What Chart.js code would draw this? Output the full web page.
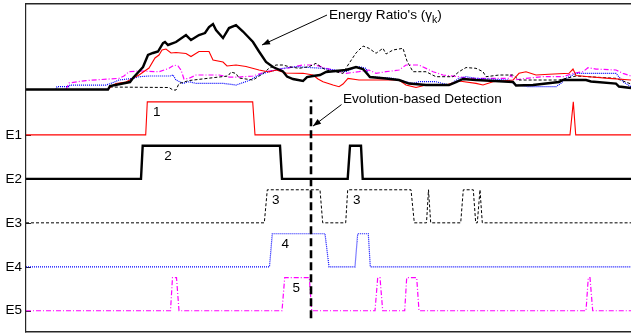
<!DOCTYPE html>
<html><head><meta charset="utf-8">
<script src="https://cdn.jsdelivr.net/npm/chart.js@4"></script>
<style>html,body{margin:0;padding:0;background:#fff;}canvas{display:block;}</style>
</head><body>
<canvas id="c" width="631" height="333"></canvas>
<script>
// ---- data ----
const timeRange = [0, 605];            // sample index
const rowLabels = ['E1', 'E2', 'E3', 'E4', 'E5'];

// energy ratios gamma_k : [sample, value]
const gammaE1 = [[0,0],[82,0],[86,.054],[90,.092],[100,.115],[113,.223],[123,.331],[129,.485],[133,.531],[136,.608],[140,.623],[145,.562],[150,.569],[160,.554],[165,.508],[173,.585],[183,.585],[187,.454],[197,.423],[201,.362],[210,.377],[220,.354],[233,.3],[243,.269],[250,.3],[260,.254],[277,.249],[287,.223],[292,.162],[297,.12],[307,.069],[313,.043],[317,.085],[322,.172],[333,.146],[373,.146],[380,.069],[390,.031],[400,.069],[420,.069],[433,.131],[450,.095],[457,.069],[467,.12],[487,.146],[493,.249],[500,.274],[510,.223],[523,.234],[543,.249],[547,.315],[550,.215],[563,.197],[583,.172],[605,.146]];
const gammaE2 = [[0,0],[82,0],[84,.054],[104,.115],[107,.177],[117,.346],[122,.531],[127,.562],[132,.585],[137,.715],[139,.731],[142,.685],[150,.731],[160,.838],[165,.762],[173,.838],[179,.869],[183,.962],[187,1.008],[190,.915],[197,.792],[203,.946],[210,.992],[217,.892],[227,.731],[233,.585],[240,.423],[247,.346],[257,.277],[261,.2],[267,.162],[277,.131],[281,.192],[287,.208],[294,.223],[300,.269],[320,.3],[330,.346],[337,.315],[344,.192],[360,.169],[373,.146],[383,.092],[400,.069],[423,.069],[430,.115],[437,.162],[450,.146],[487,.115],[490,.062],[507,.069],[533,.115],[537,.146],[560,.146],[565,.123],[590,.092],[593,.046],[605,.023]];
const gammaE3 = [[0,0],[82,0],[84,.038],[143,.031],[147,-.008],[150,-.008],[153,.092],[163,.138],[180,.169],[193,.192],[202,.208],[205,.269],[210,.246],[213,.177],[227,.146],[237,.246],[243,.326],[250,.377],[257,.377],[263,.351],[273,.326],[283,.351],[290,.403],[297,.326],[300,.3],[317,.249],[322,.377],[330,.562],[337,.669],[343,.634],[350,.557],[357,.634],[360,.546],[367,.608],[377,.634],[381,.438],[387,.274],[400,.274],[410,.197],[427,.197],[433,.274],[440,.338],[450,.326],[457,.274],[460,.197],[473,.223],[487,.223],[493,.146],[533,.146],[550,.208],[590,.172],[605,.085]];
const gammaE4 = [[0,0],[30,0],[31,.043],[43,.043],[44,.069],[80,.069],[86,.1],[93,.146],[107,.172],[113,.197],[123,.208],[144,.208],[147,.223],[150,.146],[157,.095],[163,.12],[170,.095],[197,.095],[210,.069],[223,.138],[233,.223],[243,.274],[257,.326],[270,.351],[297,.326],[320,.274],[327,.326],[333,.351],[340,.326],[343,.197],[367,.172],[380,.12],[387,.095],[393,.12],[410,.12],[423,.069],[433,.172],[440,.197],[450,.172],[483,.146],[490,.069],[503,.043],[530,.043],[535,.095],[540,.172],[550,.249],[590,.249],[597,.12],[605,.043]];
const gammaE5 = [[0,0],[40,0],[43,.1],[60,.138],[93,.172],[98,.208],[103,.274],[113,.285],[133,.274],[143,.326],[148,.377],[152,.362],[155,.3],[158,.162],[163,.172],[170,.223],[193,.223],[203,.192],[213,.192],[227,.208],[240,.274],[250,.3],[260,.326],[277,.377],[290,.377],[300,.326],[320,.249],[333,.274],[343,.3],[350,.249],[360,.274],[373,.3],[380,.377],[393,.377],[407,.274],[417,.223],[433,.197],[443,.172],[483,.172],[485,.223],[488,.146],[500,.172],[517,.197],[537,.197],[547,.249],[557,.274],[562,.335],[570,.315],[590,.3],[597,.249],[605,.208]];

// detection flags : [sample, 0/1]
const eventE1 = [[0,0],[119.7,0],[121.3,1],[226.7,1],[229,0],[544,0],[547.3,1],[549.7,0],[605,0]];
const eventE2 = [[0,0],[115,0],[116.7,1],[254,1],[256,0],[321.7,0],[324,1],[335,1],[336.7,0],[605,0]];
const eventE3 = [[0,0],[238.3,0],[241.3,1],[294,1],[296.7,0],[319.7,0],[321.7,1],[385,1],[388.3,0],[400.5,0],[402.5,1],[404.7,0],[434.7,0],[437.3,1],[447.3,1],[449.7,0],[451.3,0],[454,1],[456.3,0],[605,0]];
const eventE4 = [[0,0],[243.5,0],[246.3,1],[299,1],[303,0],[329,0],[331.7,1],[342.3,1],[344.3,0],[605,0]];
const eventE5 = [[0,0],[144.5,0],[146.5,1],[150.5,1],[153,0],[256,0],[258.7,1],[283.3,1],[285.7,0],[349,0],[351.7,1],[354,1],[356.7,0],[378.7,0],[380.7,1],[390.7,1],[393,0],[560,0],[562.3,1],[564,1],[566.7,0],[605,0]];

const detectionTime = 285;
const pulseLabels = [
  {text:'1', row:0, t:130.7},
  {text:'2', row:1, t:142},
  {text:'3', row:2, t:249.7},
  {text:'3', row:2, t:330.7},
  {text:'4', row:3, t:259.3},
  {text:'5', row:4, t:270.3}
];

// ---- styling / layout ----
const FONT = "'Liberation Sans', Arial, sans-serif";
const pulseH = 0.752;        // pulse height in row units
const labelLevel = 0.69;     // fraction of pulse height for labels
const rowBase = i => 5 - i;

const styles = [
  {color:'#ff0000', width:1.1, dash:[]},
  {color:'#000000', width:2.4, dash:[]},
  {color:'#000000', width:1, dash:[3,2]},
  {color:'#0000ff', width:1.2, dash:[1,1]},
  {color:'#ff00ff', width:1.2, dash:[5,2,1,2]}
];
const gammas = [gammaE1, gammaE2, gammaE3, gammaE4, gammaE5];
const events = [eventE1, eventE2, eventE3, eventE4, eventE5];

const datasets = [];
datasets.push({
  data: [{x:detectionTime, y:0.83}, {x:detectionTime, y:5.8}],
  yAxisID:'y', borderColor:'#000', borderWidth:2.6, borderDash:[8,4], pointRadius:0
});
const drawOrder = [1, 0, 2, 3, 4];
drawOrder.forEach(i => {
  datasets.push({
    data: gammas[i].map(([t,v]) => ({x:t, y:v})),
    yAxisID:'yE', borderColor:styles[i].color, borderWidth:styles[i].width,
    borderDash:styles[i].dash, pointRadius:0
  });
});
events.forEach((ev, i) => {
  datasets.push({
    data: ev.map(([t,v]) => ({x:t, y:rowBase(i) + v*pulseH})),
    yAxisID:'y', borderColor:styles[i].color, borderWidth:styles[i].width,
    borderDash:styles[i].dash, pointRadius:0
  });
});

function arrow(ctx, x1, y1, x2, y2) {
  ctx.beginPath(); ctx.moveTo(x1, y1); ctx.lineTo(x2, y2); ctx.stroke();
  const a = Math.atan2(y2 - y1, x2 - x1), L = 8, W = 3;
  ctx.beginPath();
  ctx.moveTo(x2, y2);
  ctx.lineTo(x2 - L*Math.cos(a) + W*Math.sin(a), y2 - L*Math.sin(a) - W*Math.cos(a));
  ctx.lineTo(x2 - L*Math.cos(a) - W*Math.sin(a), y2 - L*Math.sin(a) + W*Math.cos(a));
  ctx.closePath(); ctx.fill();
}

const overlay = {
  id:'overlay',
  beforeDatasetsDraw(chart) {
    const {ctx, chartArea:a, scales:{y}} = chart;
    ctx.save();
    ctx.strokeStyle = '#262626'; ctx.lineWidth = 1;
    rowLabels.forEach((_, i) => {
      const py = Math.round(y.getPixelForValue(rowBase(i))) + 0.5;
      ctx.beginPath(); ctx.moveTo(a.left, py); ctx.lineTo(a.left + 5, py); ctx.stroke();
    });
    ctx.restore();
  },
  afterDatasetsDraw(chart) {
    const {ctx, chartArea:a, scales:{x, y, yE}} = chart;
    ctx.save();
    // frame
    ctx.strokeStyle = '#262626';
    ctx.lineWidth = 1.6;
    ctx.beginPath(); ctx.moveTo(a.left - 1, a.top + 0.8); ctx.lineTo(a.right, a.top + 0.8); ctx.stroke();
    ctx.beginPath(); ctx.moveTo(a.left - 1, a.bottom + 0.8); ctx.lineTo(a.right, a.bottom + 0.8); ctx.stroke();
    ctx.lineWidth = 1.2;
    ctx.beginPath(); ctx.moveTo(a.left - 0.4, a.top); ctx.lineTo(a.left - 0.4, a.bottom + 1.6); ctx.stroke();

    // pulse numbers
    ctx.fillStyle = '#000';
    ctx.font = '13.5px ' + FONT;
    ctx.textAlign = 'center'; ctx.textBaseline = 'middle';
    pulseLabels.forEach(p => {
      ctx.fillText(p.text, x.getPixelForValue(p.t), y.getPixelForValue(rowBase(p.row) + labelLevel*pulseH));
    });

    // annotations
    ctx.strokeStyle = '#000'; ctx.fillStyle = '#000'; ctx.lineWidth = 1;
    arrow(ctx, x.getPixelForValue(301), yE.getPixelForValue(1.146), x.getPixelForValue(236), yE.getPixelForValue(0.685));
    arrow(ctx, x.getPixelForValue(315.5), y.getPixelForValue(5.69), x.getPixelForValue(287), y.getPixelForValue(5.2));

    ctx.textAlign = 'left'; ctx.textBaseline = 'alphabetic';
    let tx = x.getPixelForValue(303), ty = yE.getPixelForValue(1.092);
    const s1 = "Energy Ratio's (\u03b3";
    ctx.font = '13.6px ' + FONT;
    ctx.fillText(s1, tx, ty); tx += ctx.measureText(s1).width;
    ctx.font = '10.5px ' + FONT;
    ctx.fillText('k', tx, ty + 4); tx += ctx.measureText('k').width;
    ctx.font = '13.6px ' + FONT;
    ctx.fillText(')', tx, ty);

    ctx.fillText('Evolution-based Detection', x.getPixelForValue(317), y.getPixelForValue(5.736));
    ctx.restore();
  }
};

Chart.defaults.font.family = FONT;
new Chart(document.getElementById('c'), {
  type:'line',
  data:{datasets},
  options:{
    responsive:false, animation:false, devicePixelRatio:1,
    layout:{padding:{top:3, bottom:2, left:0, right:0}},
    plugins:{legend:{display:false}, tooltip:{enabled:false}},
    elements:{line:{tension:0}, point:{radius:0}},
    scales:{
      x:{type:'linear', min:timeRange[0], max:timeRange[1], display:false},
      y:{type:'linear', position:'left', min:0.54, max:8.0,
         grid:{display:false, drawTicks:false}, border:{display:false},
         ticks:{autoSkip:false, padding:4, color:'#000', font:{size:13.5, family:FONT},
                callback:v => rowLabels[5 - v]},
         afterBuildTicks:ax => { ax.ticks = rowLabels.map((_, i) => ({value:rowBase(i)})); },
         afterFit:s => { s.width = 26; s.paddingTop = 0; s.paddingBottom = 0; }
      },
      yE:{type:'linear', min:-3.715, max:1.331, display:false}
    }
  },
  plugins:[overlay]
});
</script>
</body></html>
